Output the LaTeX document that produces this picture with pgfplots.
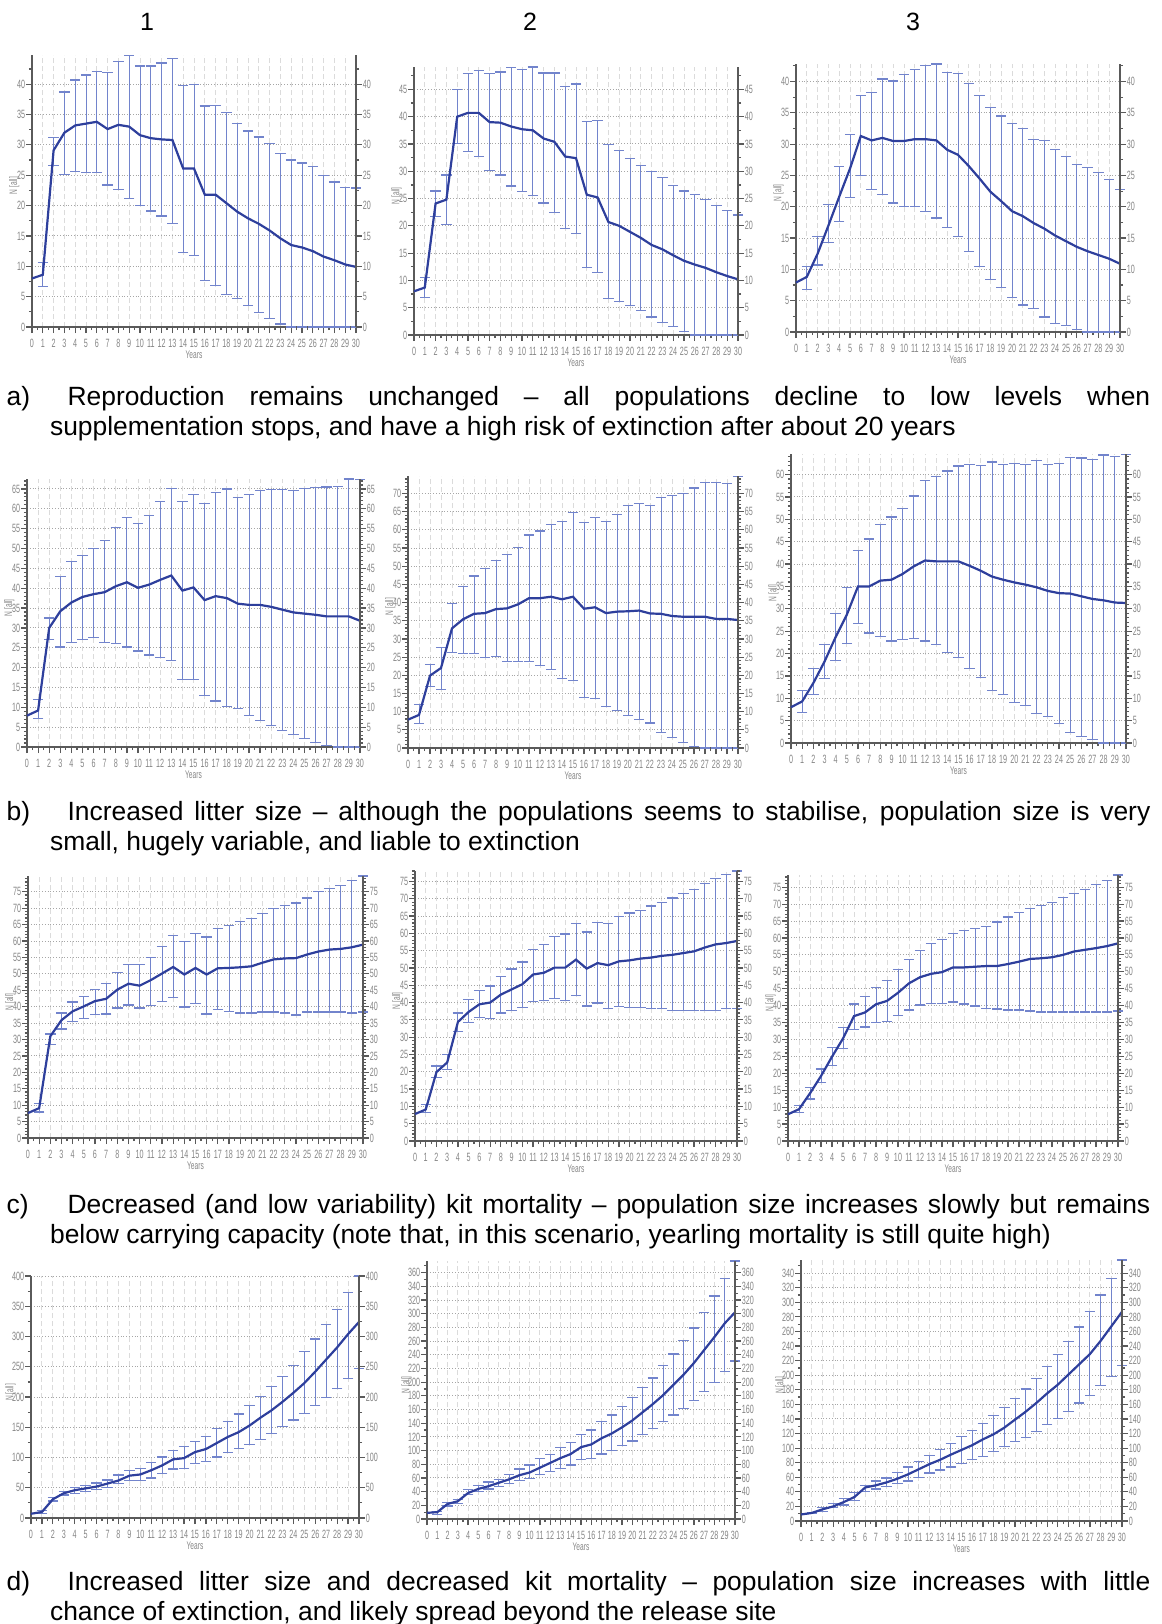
\documentclass[border=0pt]{standalone}
\usepackage{fontspec}
\setmainfont{Liberation Sans}
\newfontfamily\narrow{Liberation Sans}[FakeStretch=0.6]
\usepackage{pgfplots}
\usepackage{pgfplotstable}
\pgfplotsset{compat=1.18}
\definecolor{errcol}{HTML}{7284CC}
\definecolor{meancol}{HTML}{2E3F9C}
\definecolor{axcol}{HTML}{5A5A5A}
\definecolor{lblcol}{HTML}{858585}

\pgfplotstableread{
t m lo hi
0 8.0 8.0 8.0
1 8.6 6.7 10.6
2 29.1 26.6 31.2
3 32.0 25.1 38.7
4 33.2 25.6 40.7
5 33.5 25.5 41.5
6 33.8 25.5 42.1
7 32.6 23.4 41.9
8 33.3 22.7 43.7
9 33.0 21.2 44.7
10 31.6 20.0 43.0
11 31.1 19.1 43.0
12 30.9 18.3 43.5
13 30.8 17.1 44.2
14 26.1 12.3 39.8
15 26.1 11.8 40.0
16 21.8 7.6 36.4
17 21.8 6.9 36.5
18 20.4 5.3 35.3
19 19.0 4.7 33.5
20 17.9 3.5 32.3
21 17.0 2.4 31.3
22 15.9 1.4 30.2
23 14.6 0.5 28.6
24 13.5 0 27.5
25 13.1 0 27.0
26 12.5 0 26.4
27 11.6 0 24.9
28 11.0 0 23.9
29 10.3 0 23.0
30 9.9 0 22.9
}\tAa
\pgfplotstableread{
t m lo hi
0 8.0 8.0 8.0
1 8.7 6.9 10.6
2 24.1 21.7 26.4
3 24.8 20.3 29.3
4 40.0 35.1 45.0
5 40.7 33.6 47.9
6 40.7 32.7 48.4
7 39.0 30.2 47.9
8 38.9 29.3 48.2
9 38.2 27.3 49.0
10 37.7 26.3 48.6
11 37.5 25.6 49.1
12 36.0 24.2 48.0
13 35.4 22.5 48.0
14 32.7 19.5 45.6
15 32.4 18.6 46.0
16 25.7 12.3 39.1
17 25.2 11.4 39.3
18 20.7 6.7 34.9
19 20.0 6.1 33.8
20 18.9 5.4 32.4
21 17.8 4.5 31.0
22 16.5 3.3 29.9
23 15.7 2.3 28.9
24 14.6 1.6 27.4
25 13.6 0.6 26.4
26 12.9 0 25.7
27 12.3 0 24.8
28 11.5 0 23.7
29 10.8 0 22.8
30 10.2 0 22.0
}\tAb
\pgfplotstableread{
t m lo hi
0 7.9 7.9 7.9
1 8.8 6.8 10.5
2 12.5 10.7 15.2
3 17.0 14.3 20.3
4 21.6 17.7 26.4
5 26.1 21.5 31.5
6 31.3 25.0 37.8
7 30.6 22.7 38.3
8 31.0 21.9 40.4
9 30.5 20.6 40.1
10 30.5 20.1 41.1
11 30.8 20.0 41.9
12 30.8 19.2 42.5
13 30.6 18.2 42.8
14 29.1 16.7 41.5
15 28.3 15.2 41.3
16 26.5 12.9 39.7
17 24.5 10.5 37.8
18 22.4 8.4 35.8
19 20.9 7.1 34.5
20 19.3 5.5 33.3
21 18.5 4.3 32.5
22 17.4 3.7 30.8
23 16.5 2.4 30.6
24 15.4 1.3 29.2
25 14.5 1.1 28.0
26 13.6 0.4 26.8
27 12.9 0 26.3
28 12.3 0 25.5
29 11.7 0 24.3
30 10.9 0 22.7
}\tAc
\pgfplotstableread{
t m lo hi
0 7.9 7.9 7.9
1 9.2 7.1 11.9
2 30.0 27.0 32.5
3 34.2 25.2 43.0
4 36.4 26.3 46.8
5 37.8 27.0 48.3
6 38.5 27.5 49.9
7 39.0 26.3 52.1
8 40.5 26.0 55.2
9 41.5 25.2 57.9
10 40.1 24.2 56.3
11 40.9 23.2 58.3
12 42.1 22.6 61.9
13 43.2 21.8 65.2
14 39.4 17.0 61.9
15 40.2 17.0 63.5
16 37.0 12.9 61.4
17 38.0 11.6 64.1
18 37.5 10.3 65.0
19 36.1 9.6 62.8
20 35.8 8.0 63.7
21 35.8 6.7 64.7
22 35.3 5.5 64.9
23 34.6 4.1 64.9
24 33.9 3.1 64.7
25 33.6 2.1 65.2
26 33.3 1.1 65.4
27 32.9 0.3 65.5
28 32.9 0 65.7
29 32.9 0 67.5
30 31.8 0 67.3
}\tBa
\pgfplotstableread{
t m lo hi
0 7.8 7.8 7.8
1 9.1 6.7 11.9
2 19.9 16.9 22.9
3 22.0 16.0 27.7
4 32.9 26.3 39.8
5 35.4 25.9 44.4
6 36.9 25.9 47.3
7 37.1 24.9 49.3
8 38.2 25.2 51.5
9 38.4 23.8 53.2
10 39.5 23.8 55.2
11 41.2 23.8 58.6
12 41.2 22.6 59.7
13 41.6 21.7 61.5
14 40.9 19.1 62.2
15 41.6 18.6 64.7
16 38.3 14.0 62.0
17 38.7 13.7 63.4
18 37.1 11.4 62.2
19 37.5 10.3 64.3
20 37.6 8.9 66.6
21 37.8 7.8 67.3
22 37.0 6.9 66.6
23 36.9 4.3 68.8
24 36.3 2.9 69.4
25 36.1 1.6 70.0
26 36.1 0.5 71.5
27 36.1 0 73.1
28 35.5 0 73.1
29 35.5 0 72.8
30 35.2 0 74.7
}\tBb
\pgfplotstableread{
t m lo hi
0 8.0 8.0 8.0
1 9.3 6.9 11.8
2 13.4 10.8 16.6
3 18.2 14.4 22.0
4 23.7 18.5 28.9
5 28.7 22.3 34.8
6 35.0 26.8 43.0
7 35.0 24.6 45.6
8 36.3 23.8 48.8
9 36.5 22.8 50.5
10 37.8 23.1 52.5
11 39.5 23.3 55.2
12 40.8 22.8 58.7
13 40.6 22.1 59.6
14 40.6 20.3 60.8
15 40.6 19.1 61.9
16 39.6 16.7 62.3
17 38.5 14.7 62.0
18 37.2 11.8 62.8
19 36.5 10.8 62.2
20 35.9 9.1 62.5
21 35.4 8.3 62.2
22 34.8 6.6 63.2
23 34.0 5.9 62.2
24 33.5 4.4 62.5
25 33.4 2.4 63.9
26 32.8 1.5 63.7
27 32.2 0.7 63.4
28 31.9 0 64.4
29 31.4 0 64.0
30 31.3 0 64.5
}\tBc
\pgfplotstableread{
t m lo hi
0 7.6 7.6 7.6
1 9.1 7.9 10.4
2 31.0 28.4 31.7
3 35.9 33.2 38.1
4 38.6 35.4 41.4
5 40.1 36.3 43.2
6 41.7 37.6 45.2
7 42.4 37.8 47.0
8 45.2 39.6 50.5
9 47.0 40.5 52.8
10 46.4 39.6 52.8
11 48.1 40.3 55.1
12 50.1 41.7 58.4
13 52.1 42.7 61.8
14 49.8 39.9 59.8
15 51.8 40.9 62.4
16 49.8 37.8 61.2
17 51.7 39.1 63.9
18 51.8 38.6 64.8
19 52.0 38.1 65.9
20 52.3 38.1 66.8
21 53.4 38.4 68.3
22 54.4 38.4 69.8
23 54.7 38.1 70.9
24 54.8 37.5 71.6
25 55.9 38.4 73.1
26 56.8 38.4 75.0
27 57.4 38.4 75.9
28 57.6 38.4 76.9
29 58.1 38.1 78.5
30 58.9 38.4 79.8
}\tCa
\pgfplotstableread{
t m lo hi
0 7.8 7.8 7.8
1 9.1 8.2 10.6
2 19.9 18.4 21.7
3 22.7 20.7 25.0
4 34.4 31.7 37.0
5 37.3 34.2 40.9
6 39.5 35.8 43.4
7 40.0 35.5 44.8
8 42.3 37.0 47.6
9 43.8 37.6 49.7
10 45.3 38.5 51.7
11 48.1 40.2 55.3
12 48.6 40.5 56.8
13 50.1 41.2 59.1
14 50.1 40.7 59.8
15 52.4 42.0 62.8
16 49.8 39.0 60.4
17 51.4 39.9 63.1
18 50.8 38.2 62.8
19 51.9 38.8 64.9
20 52.2 38.5 65.9
21 52.7 38.5 66.6
22 53.0 38.2 67.9
23 53.5 38.2 69.0
24 53.8 37.6 70.2
25 54.3 37.8 71.4
26 54.8 37.8 72.6
27 55.9 37.8 74.3
28 56.8 37.8 75.9
29 57.2 38.2 77.1
30 57.8 38.2 78.0
}\tCb
\pgfplotstableread{
t m lo hi
0 7.9 7.9 7.9
1 9.4 8.4 10.4
2 14.1 12.4 15.9
3 19.2 17.2 21.3
4 24.9 22.3 27.6
5 30.3 27.4 33.5
6 36.9 33.0 40.5
7 38.0 33.7 42.7
8 40.4 35.1 45.3
9 41.4 35.4 47.4
10 43.8 37.2 50.7
11 46.6 38.7 53.7
12 48.4 40.2 56.4
13 49.4 40.7 58.4
14 49.9 40.7 59.6
15 51.3 41.1 61.4
16 51.3 40.5 62.3
17 51.5 39.9 62.9
18 51.7 39.2 63.5
19 51.7 39.0 64.7
20 52.3 38.7 66.2
21 53.0 38.7 67.5
22 53.8 38.4 68.7
23 54.0 38.1 69.6
24 54.3 38.1 70.4
25 55.0 38.1 71.9
26 56.0 38.1 73.2
27 56.5 38.1 74.4
28 57.0 38.1 75.9
29 57.6 38.1 76.9
30 58.4 38.4 78.6
}\tCc
\pgfplotstableread{
t m lo hi
0 7 7 7
1 10 7 13
2 31 28 34
3 41 38 44
4 46 41 50
5 49 44 54
6 52 47 58
7 57 50 63
8 62 57 71
9 70 62 79
10 72 62 82
11 79 66 92
12 87 73 101
13 97 81 112
14 99 82 118
15 109 90 127
16 114 93 135
17 124 101 148
18 134 108 160
19 142 115 172
20 153 121 186
21 166 130 201
22 178 140 218
23 192 151 234
24 207 162 252
25 223 173 275
26 242 186 296
27 262 199 320
28 282 214 345
29 304 231 373
30 324 247 400
}\tDa
\pgfplotstableread{
t m lo hi
0 9 9 9
1 10 7 11
2 22 19 24
3 26 23 29
4 38 36 43
5 44 40 49
6 48 44 54
7 53 48 58
8 58 52 65
9 64 56 73
10 68 59 79
11 75 65 88
12 82 70 94
13 89 74 104
14 95 79 112
15 105 87 123
16 109 88 130
17 118 95 142
18 125 100 152
19 134 107 165
20 144 114 178
21 156 123 192
22 168 132 206
23 181 142 224
24 196 152 241
25 211 162 261
26 228 173 279
27 247 186 302
28 266 200 326
29 286 215 351
30 302 231 377
}\tDb
\pgfplotstableread{
t m lo hi
0 9 9 9
1 11 10 12
2 16 13 18
3 20 18 24
4 26 22 31
5 33 28 39
6 46 40 49
7 49 44 55
8 53 47 59
9 58 51 67
10 64 55 74
11 71 60 82
12 78 66 90
13 84 70 98
14 91 74 106
15 97.5 79 116
16 104 84 124
17 112 89 134
18 119 95 145
19 128 102 156
20 139 109 168
21 150 115 181
22 162 123 196
23 175 132 212
24 187 141 228
25 201 150 246
26 215 162 266
27 229 172 287
28 247 186 310
29 267 198 333
30 287 213 358
}\tDc

\pgfplotsset{panel/.style={
  scale only axis, anchor=south west,
  xmin=0, xmax=30, ymin=0,
  xtick={0,...,30}, minor x tick num=1,
  tick align=outside, major tick length=3pt, minor tick length=1.6pt,
  tick style={axcol, line width=0.6pt},
  axis line style={-, axcol, line width=0.9pt},
  every outer x axis line/.append style={-},
  every outer y axis line/.append style={-},
  /pgf/number format/assume math mode=true,
  ticklabel style={font=\narrow\fontsize{6}{6}\selectfont, text=lblcol},
  xticklabel style={inner sep=0.5pt, yshift=-2.5pt},
  yticklabel style={inner sep=0.2pt},
  label style={font=\narrow\fontsize{5.5}{6}\selectfont, text=lblcol},
  xlabel style={inner sep=1pt},
  clip=false,
}}

% #1 left #2 top #3 right #4 bottom (pixels), #5 ymax, #6 ytick step, #7 minor num, #8 table, #9 ylabel offset (pt)
\newcommand{\panel}[9]{%
\pgfmathsetmacro\pw{(#3-#1)*0.5}%
\pgfmathsetmacro\ph{(#4-#2)*0.5}%
\pgfmathsetmacro\lx{-#9/\pw}%
\begin{axis}[panel, at={({#1*0.5pt},{-#4*0.5pt})}, width=\pw pt, height=\ph pt,
  ymax=#5, ytick distance=#6, minor y tick num=#7,
  axis x line*=bottom, axis y line*=left,
  xmajorgrids, ymajorgrids,
  x grid style={dash pattern=on 2.5pt off 1.5pt, gray!28, line width=0.45pt},
  y grid style={densely dotted, gray!70, line width=0.5pt},
  ylabel style={at={(axis description cs:\lx,0.52)}, anchor=center},
  xlabel={Years}, ylabel={N [all]}]
\addplot[errcol, line width=0.45pt, mark=none, forget plot,
  skip coords between index={0}{1},
  error bars/.cd, y dir=both, y explicit,
  error bar style={errcol, line width=0.45pt},
  error mark options={errcol, rotate=90, mark size=2.6pt, line width=0.6pt}]
  table[x=t, y=m, y error plus expr={\thisrow{hi}-\thisrow{m}},
        y error minus expr={\thisrow{m}-\thisrow{lo}}] {#8};
\addplot[meancol, line width=1.1pt, mark=none] table[x=t, y=m] {#8};
\end{axis}
\begin{axis}[panel, at={({#1*0.5pt},{-#4*0.5pt})}, width=\pw pt, height=\ph pt,
  ymax=#5, ytick distance=#6, minor y tick num=#7,
  axis y line*=right, axis x line=none]
\addplot[draw=none, mark=none] coordinates {(0,0)};
\end{axis}
}

\begin{document}
\begin{tikzpicture}
\path[use as bounding box] (0,0) rectangle (581pt,-812pt);

\node[font=\fontsize{12.5}{15}\selectfont, anchor=base] at (73.5pt,-15pt) {1};
\node[font=\fontsize{12.5}{15}\selectfont, anchor=base] at (265pt,-15pt) {2};
\node[font=\fontsize{12.5}{15}\selectfont, anchor=base] at (456.5pt,-15pt) {3};

\panel{32}{55}{356}{327}{44.8}{5}{1}{\tAa}{8.8}
\panel{414}{67}{738}{335}{49.1}{5}{1}{\tAb}{8.8}
\panel{796}{64}{1120}{332}{42.8}{5}{1}{\tAc}{8.8}

\panel{27}{479}{360}{747}{67.5}{5}{4}{\tBa}{8.8}
\panel{408}{476}{738}{748}{74.8}{5}{4}{\tBb}{8.8}
\panel{791}{454}{1126}{743}{64.6}{5}{4}{\tBc}{8.8}

\panel{28}{876}{363}{1138}{79.8}{5}{4}{\tCa}{8.8}
\panel{415}{871}{737}{1141}{78}{5}{4}{\tCb}{8.8}
\panel{788}{875}{1118}{1141}{78.6}{5}{4}{\tCc}{8.8}

\panel{31}{1276}{359}{1518}{400}{50}{1}{\tDa}{10.2}
\panel{427}{1261}{735}{1519}{377}{20}{1}{\tDb}{10.2}
\panel{801}{1260}{1122}{1521}{358}{20}{1}{\tDc}{10.2}

\tikzset{captxt/.style={anchor=north west, inner sep=0pt, text width=571.9pt, align=justify, font=\fontsize{13.2}{15}\selectfont}}
\node[captxt] at (3.1pt,-193.2pt) {\noindent\hangindent=21.75pt\hangafter=1\makebox[30.5pt][l]{a)}Reproduction remains unchanged – all populations decline to low levels when\linebreak supplementation stops, and have a high risk of extinction after about 20 years\par};
\node[captxt] at (3.1pt,-400.7pt) {\noindent\hangindent=21.75pt\hangafter=1\makebox[30.5pt][l]{b)}Increased litter size – although the populations seems to stabilise, population size is very\linebreak small, hugely variable, and liable to extinction\par};
\node[captxt] at (3.1pt,-597.2pt) {\noindent\hangindent=21.75pt\hangafter=1\makebox[30.5pt][l]{c)}Decreased (and low variability) kit mortality – population size increases slowly but remains\linebreak below carrying capacity (note that, in this scenario, yearling mortality is still quite high)\par};
\node[captxt] at (3.1pt,-785.4pt) {\noindent\hangindent=21.75pt\hangafter=1\makebox[30.5pt][l]{d)}Increased litter size and decreased kit mortality – population size increases with little\linebreak chance of extinction, and likely spread beyond the release site\par};
\end{tikzpicture}
\end{document}
